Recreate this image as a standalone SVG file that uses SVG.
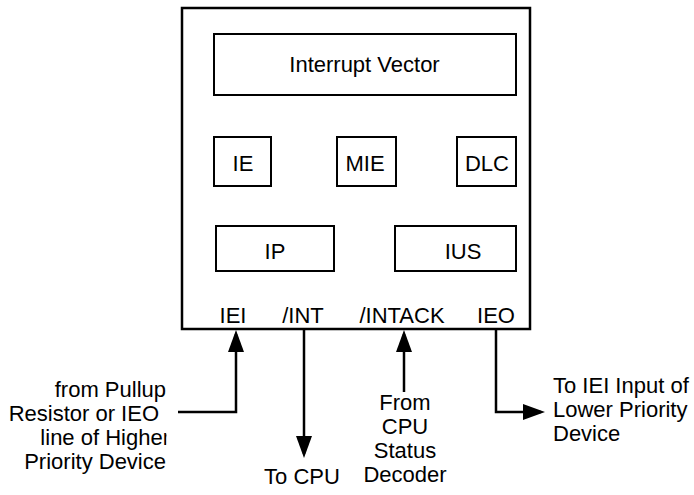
<svg xmlns="http://www.w3.org/2000/svg" width="694" height="495" viewBox="0 0 694 495">
  <style>
    .box { fill: #fff; stroke: #000; stroke-width: 2; }
    .outer { fill: #fff; stroke: #000; stroke-width: 2.5; }
    .lbl { font-family: "Liberation Sans", Arial, sans-serif; font-size: 22px; fill: #000; }
    .c { text-anchor: middle; }
    .e { text-anchor: end; }
    .wire { fill: none; stroke: #000; stroke-width: 2.5; marker-end: url(#arr); }
  </style>
  <defs>
    <marker id="arr" viewBox="0 0 22 16" refX="18" refY="8" markerWidth="22" markerHeight="16" markerUnits="userSpaceOnUse" orient="auto">
      <path d="M0,0 L22,8 L0,16 Z" fill="#000"/>
    </marker>
    <clipPath id="leftclip">
      <rect x="0" y="360" width="166.5" height="135"/>
    </clipPath>
  </defs>
  <rect width="694" height="495" fill="#fff"/>

  <g id="chip">
    <rect class="outer" x="182" y="8" width="348" height="321"/>
    <text class="lbl c" x="233" y="323">IEI</text>
    <text class="lbl c" x="303" y="323">/INT</text>
    <text class="lbl c" x="402" y="323">/INTACK</text>
    <text class="lbl c" x="496" y="323">IEO</text>
  </g>
  <g id="interrupt-vector">
    <rect class="box" x="214" y="34" width="302" height="61"/>
    <text class="lbl c" x="364.5" y="72">Interrupt Vector</text>
  </g>
  <g id="ie">
    <rect class="box" x="214" y="137" width="57" height="49"/>
    <text class="lbl c" x="243" y="171">IE</text>
  </g>
  <g id="mie">
    <rect class="box" x="337" y="137" width="59" height="49"/>
    <text class="lbl c" x="365" y="171">MIE</text>
  </g>
  <g id="dlc">
    <rect class="box" x="457" y="137" width="59" height="49"/>
    <text class="lbl c" x="487" y="171">DLC</text>
  </g>
  <g id="ip">
    <rect class="box" x="216" y="226" width="118" height="45"/>
    <text class="lbl c" x="275" y="259">IP</text>
  </g>
  <g id="ius">
    <rect class="box" x="395" y="226" width="121" height="45"/>
    <text class="lbl c" x="463" y="259">IUS</text>
  </g>

  <g id="connectors">
    <polyline class="wire" points="178,412 236,412 236,334"/>
    <line class="wire" x1="304" y1="330" x2="304" y2="454"/>
    <line class="wire" x1="404" y1="392" x2="404" y2="334"/>
    <polyline class="wire" points="496,330 496,412 541,412"/>
  </g>

  <g id="label-iei-source" clip-path="url(#leftclip)">
    <text class="lbl e" x="166" y="397">from Pullup</text>
    <text class="lbl e" x="159" y="421">Resistor or IEO</text>
    <text class="lbl e" x="170" y="445">line of Higher</text>
    <text class="lbl e" x="166" y="469">Priority Device</text>
  </g>
  <g id="label-to-cpu">
    <text class="lbl c" x="302" y="484">To CPU</text>
  </g>
  <g id="label-from-cpu">
    <text class="lbl c" x="405" y="410">From</text>
    <text class="lbl c" x="405" y="434">CPU</text>
    <text class="lbl c" x="405" y="458">Status</text>
    <text class="lbl c" x="405" y="482">Decoder</text>
  </g>
  <g id="label-ieo-dest">
    <text class="lbl" x="553" y="393">To IEI Input of</text>
    <text class="lbl" x="553" y="417">Lower Priority</text>
    <text class="lbl" x="553" y="441">Device</text>
  </g>
</svg>
